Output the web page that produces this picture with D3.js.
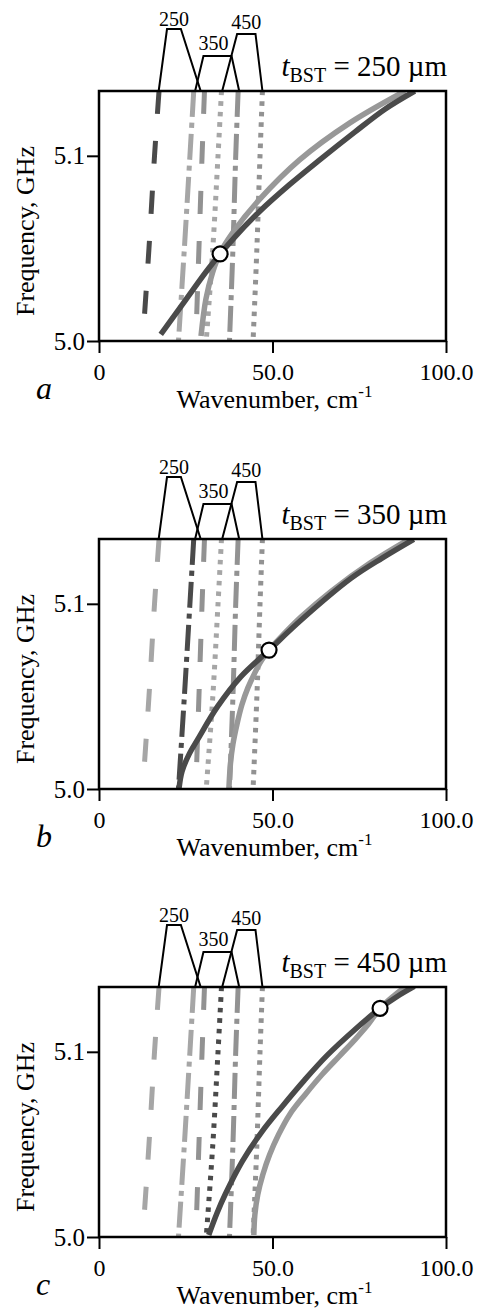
<!DOCTYPE html>
<html>
<head>
<meta charset="utf-8">
<script src="https://cdn.jsdelivr.net/npm/d3@7"></script>
<style>
  body { margin: 0; background: #fff; }
  text { font-family: "Liberation Serif", "Times New Roman", Times, serif; fill: #000; }
</style>
</head>
<body>
<div id="chart"></div>
<script>
const width = 478, height = 1310;
const plotLeft = 99, plotTop = 91, plotW = 347, plotH = 250, panelStep = 448;
const serif = "'Liberation Serif', 'Times New Roman', Times, serif";

// ---- data ----
const freqTicks = [5.0, 5.1];
const waveTicks = [0, 50, 100];
const panelLabels = ["a", "b", "c"];
const panelThickness = ["250", "350", "450"];

// nearly vertical mode lines, wavenumber read at these frequencies
const modeFreqs = [5.0, 5.05, 5.1, 5.135];
const dash250Left = [12.6, 14.4, 16.0, 17.3];
const dash250Right = [27.9, 28.8, 29.7, 30.4];
const dashDot350Left = [22.9, 24.6, 26.2, 27.3];
const dashDot350Right = [37.6, 38.6, 39.4, 40.1];
const dot450Left = [30.9, 32.8, 34.3, 35.3];
const dot450Right = [44.4, 45.5, 46.4, 47.1];

// trapezoid markers above the plot: bottom-left, top-left, top-right, bottom-right (wavenumber)
const trap250 = [17.2, 19.6, 23.6, 29.3];
const trap350 = [27.7, 30.1, 38.2, 40.4];
const trap450 = [35.5, 39.8, 45.1, 47.1];
const trapLabelWave = [21.6, 33.0, 42.4];

// solid curves [wavenumber, frequency]
const darkCurveA = [[17.8,5.0036],[25.1,5.0225],[31.8,5.0397],[39.0,5.0558],[46.2,5.0698],[54.9,5.0844],[63.6,5.0978],[73.7,5.1128],[82.4,5.1252],[91.0,5.135]];
const lightCurveA = [[29.4,5.0027],[30.8,5.0225],[32.7,5.0368],[34.9,5.0475],[38.5,5.0584],[46.2,5.0763],[57.8,5.0978],[72.3,5.1178],[88.2,5.135]];
const darkCurveB = [[23.07,5.0005],[23.94,5.0096],[25.95,5.0187],[28.45,5.0268],[34.2,5.0446],[40.9,5.0607],[49.0,5.075],[58.1,5.091],[72.5,5.1136],[81.7,5.1248],[90.7,5.1348]];
const lightCurveB = [[37.44,5.0005],[37.87,5.0134],[38.59,5.0241],[39.74,5.0348],[41.18,5.0455],[42.9,5.0546],[44.9,5.0627],[46.9,5.0696],[49.0,5.075],[52.4,5.082],[58.1,5.0927],[66.8,5.1066],[78.2,5.1221],[89.3,5.1348]];
const darkCurveC = [[31.62,5.0011],[34.02,5.013],[36.42,5.0232],[41.24,5.0407],[47.02,5.057],[52.8,5.0705],[59.16,5.0846],[65.81,5.0982],[73.61,5.1118],[81.04,5.1235],[86.04,5.13],[90.87,5.1353]];
const lightCurveC = [[44.62,5.0011],[44.91,5.0119],[45.75,5.0228],[47.2,5.0336],[49.19,5.0445],[51.76,5.0553],[54.97,5.0662],[59.45,5.077],[64.36,5.0879],[69.28,5.0977],[73.9,5.1069],[77.66,5.115],[81.04,5.1235],[84.6,5.1297],[88.44,5.1353]];

// intersection points [wavenumber, frequency]
const crossA = [34.9, 5.047];
const crossB = [49.0, 5.075];
const crossC = [81.0, 5.1235];

// ---- layout / style ----
const trapHeights = [62, 35, 57];
const trapLabelRaise = [3.5, 6, 5];
const dark = "#4a4a4a", lightLeft = "#a6a6a6", lightRight = "#929292", lightSolid = "#989898";
const dashes = { dash: "23,27", dashdot: "26,6,5,6", dot: "4.5,6" };

const modes = [
  { vals: dash250Left, style: "dash", group: 0, side: "L" },
  { vals: dash250Right, style: "dash", group: 0, side: "R" },
  { vals: dashDot350Left, style: "dashdot", group: 1, side: "L" },
  { vals: dashDot350Right, style: "dashdot", group: 1, side: "R" },
  { vals: dot450Left, style: "dot", group: 2, side: "L" },
  { vals: dot450Right, style: "dot", group: 2, side: "R" }
];
const traps = [trap250, trap350, trap450];
const panels = [
  { dark: darkCurveA, light: lightCurveA, cross: crossA },
  { dark: darkCurveB, light: lightCurveB, cross: crossB },
  { dark: darkCurveC, light: lightCurveC, cross: crossC }
];

const svg = d3.select("#chart").append("svg")
  .attr("width", width)
  .attr("height", height)
  .style("font-family", serif);

let x = d3.scaleLinear().domain([0, 100]).range([0, plotW]);
let y = d3.scaleLinear().domain([5.0, 5.135]).range([plotH, 0]);

let line = d3.line()
  .x(function(d) { return x(d[0]); })
  .y(function(d) { return y(d[1]); })
  .curve(d3.curveCatmullRom);

panels.forEach(function(p, i) {
  let g = svg.append("g")
    .attr("transform", `translate(${plotLeft}, ${plotTop + i * panelStep})`);

  g.append("clipPath").attr("id", "clip" + i)
    .append("rect").attr("width", plotW).attr("height", plotH);

  let plot = g.append("g").attr("clip-path", `url(#clip${i})`);

  // vertical-ish mode lines; the left line of this panel's thickness is dark
  modes.forEach(function(m) {
    let pts = m.vals.map(function(v, k) { return [v, modeFreqs[k]]; });
    let col = (m.side === "L" && m.group === i) ? dark : (m.side === "L" ? lightLeft : lightRight);
    plot.append("path")
      .attr("d", line(pts.slice().reverse()))
      .attr("fill", "none")
      .attr("stroke", col)
      .attr("stroke-width", 5)
      .attr("stroke-dasharray", dashes[m.style]);
  });

  plot.append("path")
    .attr("d", line(p.light))
    .attr("fill", "none")
    .attr("stroke", lightSolid)
    .attr("stroke-width", 5.5);

  plot.append("path")
    .attr("d", line(p.dark))
    .attr("fill", "none")
    .attr("stroke", dark)
    .attr("stroke-width", 5.5);

  g.append("circle")
    .attr("cx", x(p.cross[0]))
    .attr("cy", y(p.cross[1]))
    .attr("r", 7.5)
    .attr("fill", "#fff")
    .attr("stroke", "#000")
    .attr("stroke-width", 2.2);

  // axes
  g.append("g")
    .call(d3.axisLeft(y).tickValues(freqTicks).tickFormat(d3.format(".1f"))
      .tickSize(12).tickSizeOuter(0).tickPadding(2))
    .call(function(a) { a.select(".domain").remove(); })
    .call(function(a) { a.selectAll("line").attr("stroke-width", 2); })
    .call(function(a) { a.selectAll("text").style("font-size", "25px").style("font-family", serif); });

  g.append("g")
    .attr("transform", `translate(0, ${plotH})`)
    .call(d3.axisBottom(x).tickValues(waveTicks)
      .tickFormat(function(d) { return d === 0 ? "0" : d.toFixed(1); })
      .tickSize(12).tickSizeOuter(0).tickPadding(10))
    .call(function(a) { a.select(".domain").remove(); })
    .call(function(a) { a.selectAll("line").attr("stroke-width", 2); })
    .call(function(a) { a.selectAll("text").style("font-size", "24px").style("font-family", serif); });

  g.append("rect")
    .attr("width", plotW)
    .attr("height", plotH)
    .attr("fill", "none")
    .attr("stroke", "#000")
    .attr("stroke-width", 2.5);

  // trapezoid markers
  traps.forEach(function(t, k) {
    let h = trapHeights[k];
    let pts = [[x(t[0]), 0], [x(t[1]), -h], [x(t[2]), -h], [x(t[3]), 0]];
    g.append("path")
      .attr("d", d3.line()(pts))
      .attr("fill", "none")
      .attr("stroke", "#000")
      .attr("stroke-width", 2);
    g.append("text")
      .attr("x", x(trapLabelWave[k]))
      .attr("y", -h - trapLabelRaise[k])
      .style("text-anchor", "middle")
      .style("font-size", "20px")
      .text(panelThickness[k]);
  });

  // t_BST label
  let tl = g.append("text")
    .attr("x", plotW + 1)
    .attr("y", -15)
    .style("text-anchor", "end")
    .style("font-size", "29px");
  tl.append("tspan").style("font-style", "italic").text("t");
  tl.append("tspan").attr("dy", 6).style("font-size", "20px").text("BST");
  tl.append("tspan").attr("dy", -6).text(" = " + panelThickness[i] + " \u00b5m");

  // axis titles
  let xt = g.append("text")
    .attr("x", plotW / 2 + 2)
    .attr("y", plotH + 67)
    .style("text-anchor", "middle")
    .style("font-size", "26px");
  xt.append("tspan").text("Wavenumber, cm");
  xt.append("tspan").attr("dy", -11).style("font-size", "17px").text("-1");

  g.append("text")
    .attr("transform", `translate(${34 - plotLeft}, ${plotH / 2 + 15}) rotate(-90)`)
    .style("text-anchor", "middle")
    .style("font-size", "26px")
    .text("Frequency, GHz");

  g.append("text")
    .attr("x", 36 - plotLeft)
    .attr("y", plotH + 58)
    .style("font-style", "italic")
    .style("font-size", "32px")
    .text(panelLabels[i]);
});
</script>
</body>
</html>
